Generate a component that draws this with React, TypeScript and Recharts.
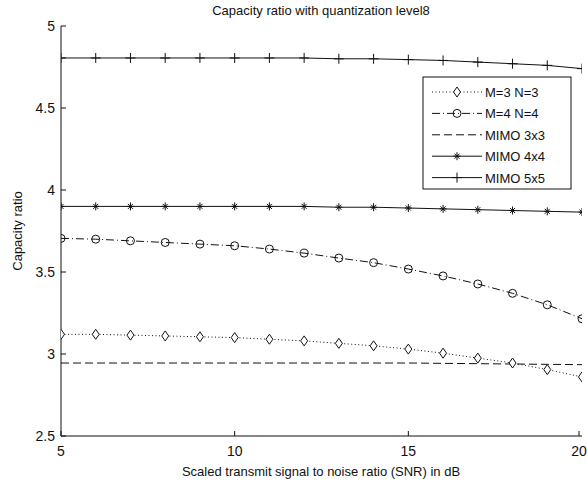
import { LineChart, Line, XAxis, YAxis, Customized } from 'recharts';

const snr = [5, 6, 7, 8, 9, 10, 11, 12, 13, 14, 15, 16, 17, 18, 19, 20];
const m3n3 = [3.12, 3.12, 3.115, 3.11, 3.105, 3.1, 3.09, 3.08, 3.065, 3.05, 3.03, 3.005, 2.975, 2.945, 2.905, 2.86];
const m4n4 = [3.705, 3.7, 3.69, 3.68, 3.67, 3.66, 3.64, 3.615, 3.585, 3.557, 3.518, 3.476, 3.427, 3.37, 3.3, 3.215];
const mimo3 = [2.945, 2.945, 2.945, 2.945, 2.945, 2.945, 2.945, 2.945, 2.945, 2.945, 2.945, 2.943, 2.941, 2.939, 2.937, 2.935];
const mimo4 = [3.9, 3.9, 3.9, 3.9, 3.9, 3.9, 3.9, 3.9, 3.895, 3.895, 3.89, 3.885, 3.88, 3.875, 3.87, 3.865];
const mimo5 = [4.805, 4.805, 4.805, 4.805, 4.805, 4.805, 4.805, 4.805, 4.8, 4.8, 4.795, 4.79, 4.78, 4.77, 4.76, 4.74];

const xTicks = [5, 10, 15, 20];
const yTicks = [2.5, 3, 3.5, 4, 4.5, 5];

const data = snr.map((s, i) => ({
  snr: s,
  m3n3: m3n3[i],
  m4n4: m4n4[i],
  mimo3: mimo3[i],
  mimo4: mimo4[i],
  mimo5: mimo5[i],
}));

const FONT = '"Liberation Sans", Arial, Helvetica, sans-serif';
const INK = '#111';

// marker shapes
const Diamond = ({ cx, cy }: any) => (
  <path d={`M${cx},${cy - 5}L${cx + 3.5},${cy}L${cx},${cy + 5}L${cx - 3.5},${cy}Z`} fill="#fff" stroke={INK} strokeWidth={1} />
);
const Circle = ({ cx, cy }: any) => <circle cx={cx} cy={cy} r={4} fill="none" stroke={INK} strokeWidth={1} />;
const Star = ({ cx, cy }: any) => (
  <g stroke={INK} strokeWidth={1}>
    <line x1={cx} y1={cy - 4} x2={cx} y2={cy + 4} />
    <line x1={cx - 3.5} y1={cy} x2={cx + 3.5} y2={cy} />
    <line x1={cx - 2.5} y1={cy - 2.5} x2={cx + 2.5} y2={cy + 2.5} />
    <line x1={cx - 2.5} y1={cy + 2.5} x2={cx + 2.5} y2={cy - 2.5} />
  </g>
);
const Plus = ({ cx, cy }: any) => (
  <g stroke={INK} strokeWidth={1}>
    <line x1={cx} y1={cy - 5} x2={cx} y2={cy + 5} />
    <line x1={cx - 5} y1={cy} x2={cx + 5} y2={cy} />
  </g>
);

const dotOf = (Shape: any) => (p: any) => <Shape key={p.index} cx={p.cx} cy={p.cy} />;

const BottomTick = ({ x, y, payload }: any) => (
  <g>
    <line x1={x} x2={x} y1={y} y2={y - 5} stroke={INK} />
    <text x={x} y={y + 20} textAnchor="middle" fontSize={14} fontFamily={FONT} fill={INK}>
      {payload.value}
    </text>
  </g>
);
const TopTick = ({ x, y }: any) => <line x1={x} x2={x} y1={y} y2={y + 5} stroke={INK} />;
const LeftTick = ({ x, y, payload }: any) => (
  <g>
    <line x1={x} x2={x + 5} y1={y} y2={y} stroke={INK} />
    <text x={x - 6} y={y + 5} textAnchor="end" fontSize={14} fontFamily={FONT} fill={INK}>
      {payload.value}
    </text>
  </g>
);
const RightTick = ({ x, y }: any) => <line x1={x} x2={x - 5} y1={y} y2={y} stroke={INK} />;

const legendItems = [
  { label: 'M=3 N=3', dash: '1 2.5', Shape: Diamond },
  { label: 'M=4 N=4', dash: '8 3 1 3', Shape: Circle },
  { label: 'MIMO 3x3', dash: '8 4', Shape: null },
  { label: 'MIMO 4x4', dash: undefined, Shape: Star },
  { label: 'MIMO 5x5', dash: undefined, Shape: Plus },
];

const Annotations = () => (
  <g fontFamily={FONT} fill={INK}>
    <text x={321} y={15} textAnchor="middle" fontSize={13}>
      Capacity ratio with quantization level8
    </text>
    <text x={321} y={476} textAnchor="middle" fontSize={13}>
      Scaled transmit signal to noise ratio (SNR) in dB
    </text>
    <text x={22} y={231} textAnchor="middle" fontSize={13} transform="rotate(-90 22 231)">
      Capacity ratio
    </text>
    <rect x={423} y={77} width={148} height={112} fill="#fff" stroke={INK} />
    {legendItems.map((it, i) => {
      const yy = 92 + i * 21.4;
      return (
        <g key={it.label}>
          <line x1={432} x2={482} y1={yy} y2={yy} stroke={INK} strokeDasharray={it.dash} />
          {it.Shape && <it.Shape cx={457} cy={yy} />}
          <text x={485} y={yy + 5} fontSize={13}>
            {it.label}
          </text>
        </g>
      );
    })}
  </g>
);

export default function App() {
  return (
    <div style={{ position: 'absolute', left: 0, top: 0, width: 587, height: 487, background: '#fff' }}>
      <LineChart width={587} height={487} data={data} margin={{ top: 26, right: 5, left: 0, bottom: 0 }}>
        <XAxis
          dataKey="snr"
          type="number"
          domain={[5, 20]}
          ticks={xTicks}
          height={51}
          tickSize={0}
          tickMargin={0}
          tickLine={false}
          tick={BottomTick}
          stroke={INK}
          allowDataOverflow
        />
        <XAxis
          xAxisId="top"
          orientation="top"
          dataKey="snr"
          type="number"
          domain={[5, 20]}
          ticks={xTicks}
          height={0}
          tickSize={0}
          tickMargin={0}
          tickLine={false}
          tick={TopTick}
          stroke={INK}
        />
        <YAxis
          type="number"
          domain={[2.5, 5]}
          ticks={yTicks}
          width={61}
          tickSize={0}
          tickMargin={0}
          tickLine={false}
          tick={LeftTick}
          stroke={INK}
          allowDataOverflow
        />
        <YAxis
          yAxisId="right"
          orientation="right"
          type="number"
          domain={[2.5, 5]}
          ticks={yTicks}
          width={0}
          tickSize={0}
          tickMargin={0}
          tickLine={false}
          tick={RightTick}
          stroke={INK}
        />
        <Line dataKey="mimo3" stroke={INK} strokeWidth={1} strokeDasharray="8 4" dot={false} isAnimationActive={false} />
        <Line dataKey="m3n3" stroke={INK} strokeWidth={1} strokeDasharray="1 2.5" dot={dotOf(Diamond)} isAnimationActive={false} />
        <Line dataKey="m4n4" stroke={INK} strokeWidth={1} strokeDasharray="8 3 1 3" dot={dotOf(Circle)} isAnimationActive={false} />
        <Line dataKey="mimo4" stroke={INK} strokeWidth={1} dot={dotOf(Star)} isAnimationActive={false} />
        <Line dataKey="mimo5" stroke={INK} strokeWidth={1} dot={dotOf(Plus)} isAnimationActive={false} />
        <Customized component={Annotations} />
      </LineChart>
    </div>
  );
}
